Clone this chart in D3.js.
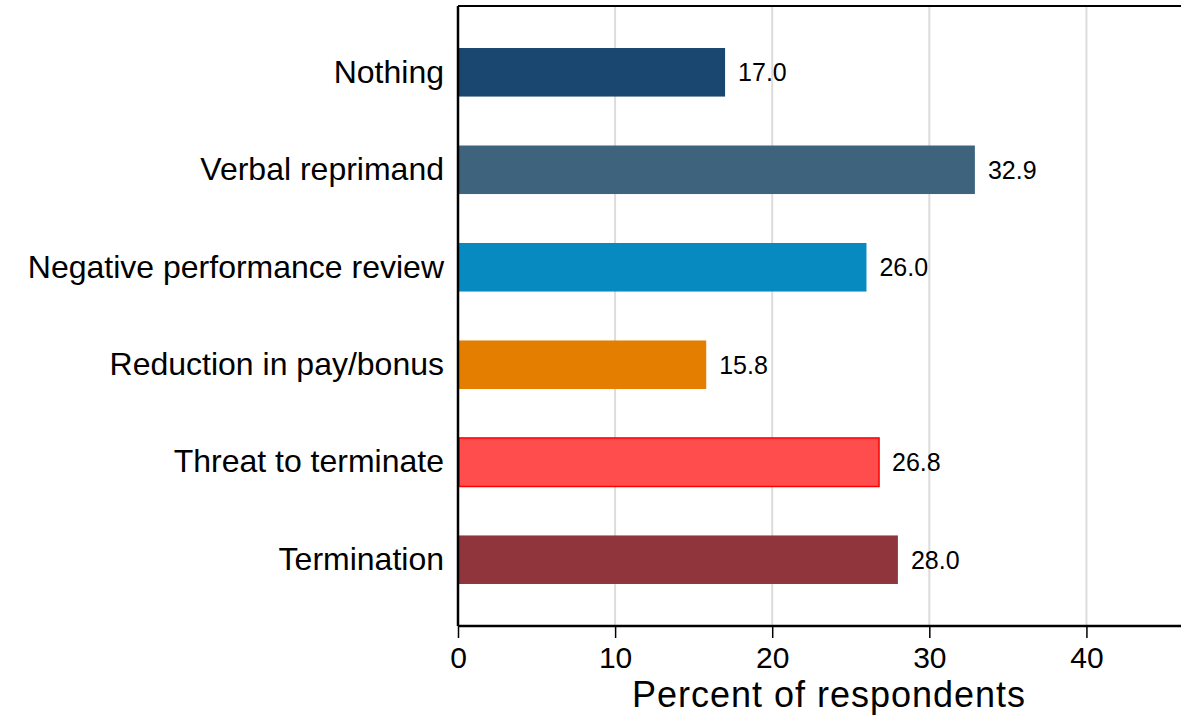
<!DOCTYPE html>
<html>
<head>
<meta charset="utf-8">
<script src="https://cdn.jsdelivr.net/npm/d3@7"></script>
<style>
body { margin: 0; background: #fff; }
svg { display: block; font-family: "Liberation Sans", Arial, Helvetica, sans-serif; }
</style>
</head>
<body>
<svg></svg>
<script>
var categories = ["Nothing", "Verbal reprimand", "Negative performance review",
                  "Reduction in pay/bonus", "Threat to terminate", "Termination"];
var values = [17.0, 32.9, 26.0, 15.8, 26.8, 28.0];
var fills = ["#1a476f", "#3e647d", "#068ac0", "#e37e00", "#ff4c4c", "#90353b"];
var strokes = ["none", "none", "none", "none", "#ff0000", "none"];
var xTicks = [0, 10, 20, 30, 40];

var screen = {width: 1181, height: 718};
var margins = {top: 6, right: 0, bottom: 92, left: 458};

var width = screen.width - margins.left - margins.right;
var height = screen.height - margins.top - margins.bottom;

var svg = d3.select("svg")
    .attr("width", screen.width)
    .attr("height", screen.height);

var g = svg.append("g")
    .attr("transform", "translate(" + margins.left + "," + margins.top + ")");

var xScale = d3.scaleLinear().domain([0, 46.02]).range([0, width]);
var yScale = d3.scaleBand().domain(categories).range([0, height])
    .paddingInner(0.502).paddingOuter(0.431);

// grid
g.selectAll(".grid")
    .data(xTicks.slice(1))
    .enter()
    .append("line")
    .attr("x1", function(d) { return xScale(d); })
    .attr("x2", function(d) { return xScale(d); })
    .attr("y1", 0)
    .attr("y2", height)
    .attr("stroke", "#dcdcdc")
    .attr("stroke-width", 2);

// bars
g.selectAll("rect")
    .data(values)
    .enter()
    .append("rect")
    .attr("x", 1)
    .attr("y", function(d, i) { return yScale(categories[i]); })
    .attr("width", function(d) { return xScale(d) - 1; })
    .attr("height", yScale.bandwidth())
    .attr("fill", function(d, i) { return fills[i]; })
    .attr("stroke", function(d, i) { return strokes[i]; })
    .attr("stroke-width", 1.5);

// value labels
g.selectAll(".val")
    .data(values)
    .enter()
    .append("text")
    .attr("x", function(d) { return xScale(d) + 13; })
    .attr("y", function(d, i) { return yScale(categories[i]) + yScale.bandwidth() / 2; })
    .attr("dy", "0.36em")
    .attr("font-size", 25)
    .text(function(d) { return d.toFixed(1); });

// top border
g.append("line")
    .attr("x1", 0).attr("x2", width)
    .attr("y1", 0).attr("y2", 0)
    .attr("stroke", "#000").attr("stroke-width", 2);

// x axis
var xAxis = d3.axisBottom(xScale).tickValues(xTicks).tickSize(12).tickPadding(9);
var xg = g.append("g")
    .attr("transform", "translate(0," + height + ")")
    .call(xAxis);
xg.select(".domain").attr("stroke-width", 2.5).attr("d", "M0,0H" + width);
xg.selectAll(".tick line").attr("stroke-width", 1.5);
xg.selectAll("text").attr("font-size", 30).attr("fill", "#000");

// y axis
var yAxis = d3.axisLeft(yScale).tickSize(0).tickPadding(14);
var yg = g.append("g").call(yAxis);
yg.select(".domain").attr("stroke-width", 2.5).attr("d", "M0,0V" + height);
yg.selectAll("text").attr("font-size", 32).attr("fill", "#000");

// axis title
svg.append("text")
    .attr("x", 829)
    .attr("y", 707)
    .attr("text-anchor", "middle")
    .attr("font-size", 36)
    .attr("letter-spacing", 1)
    .text("Percent of respondents");
</script>
</body>
</html>
